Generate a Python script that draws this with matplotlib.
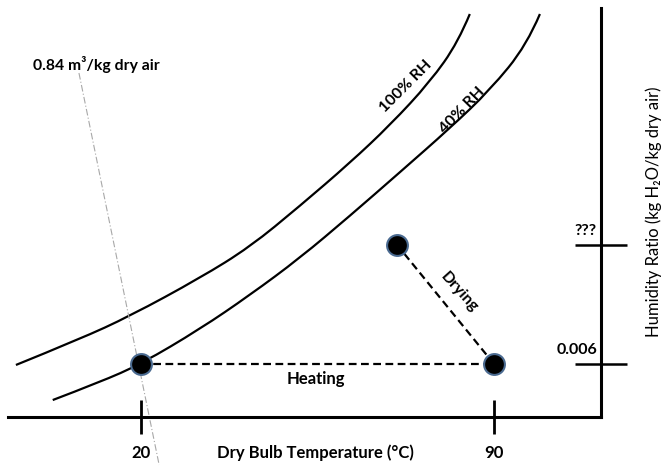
import matplotlib
matplotlib.use("Agg")
import matplotlib.pyplot as plt
from matplotlib.path import Path
from matplotlib.patches import PathPatch

# Psychrometric sketch: heating then drying
# dry bulb temperature (C) and humidity ratio (kg H2O / kg dry air)
rh100_t = [-4.8, 7.9, 17.8, 31.7, 41.6, 51.5, 61.4, 69.4, 77.3, 82.9, 85.2]
rh100_w = [0.00589, 0.00883, 0.01143, 0.01574, 0.01925, 0.02389, 0.02876, 0.03306, 0.03793, 0.04245, 0.04562]

rh40_t = [2.5, 11.9, 20.0, 31.7, 41.6, 51.5, 61.4, 71.4, 81.3, 89.2, 96.5, 99.1]
rh40_w = [0.00192, 0.00396, 0.006, 0.00996, 0.01381, 0.0180, 0.02276, 0.02774, 0.03272, 0.03702, 0.04211, 0.04562]

# 0.84 m3/kg specific volume line
vol_t = [7.7, 23.6]
vol_w = [0.03894, -0.00543]

# process states: ambient, heated, exhaust
state_t = [20, 90, 70.8]
state_w = [0.006, 0.006, 0.01947]

x_ticks = [20, 90]
x_tick_labels = ["20", "90"]
y_ticks = [0.006, 0.01947]
y_tick_labels = ["0.006", "???"]

fnt = ["Lato", "DejaVu Sans"]
plt.rcParams["font.family"] = fnt


def smooth_curve(ax, xs, ys, **kw):
    # quadratic bezier through the read points (points used as control points)
    pts = list(zip(xs, ys))
    verts = [pts[0]]
    codes = [Path.MOVETO]
    for i in range(1, len(pts) - 1):
        if i < len(pts) - 2:
            end = ((pts[i][0] + pts[i + 1][0]) / 2, (pts[i][1] + pts[i + 1][1]) / 2)
        else:
            end = pts[-1]
        verts += [pts[i], end]
        codes += [Path.CURVE3, Path.CURVE3]
    ax.add_patch(PathPatch(Path(verts, codes), fill=False, **kw))


fig = plt.figure(figsize=(6.63, 4.66), dpi=100)
ax = fig.add_axes([8 / 663, 49 / 466, 593 / 663, 409 / 466])
ax.set_xlim(-6.37, 111.21)
ax.set_ylim(0, 0.0463)

for s in ["top", "left"]:
    ax.spines[s].set_visible(False)
for s in ["bottom", "right"]:
    ax.spines[s].set_linewidth(2.2)

ax.set_xticks(x_ticks)
ax.set_xticklabels([])
ax.yaxis.tick_right()
ax.set_yticks(y_ticks)
ax.set_yticklabels([])
ax.tick_params(axis="x", direction="inout", length=24, width=2)
ax.tick_params(axis="y", direction="inout", length=37, width=1.8)

smooth_curve(ax, rh100_t, rh100_w, edgecolor="black", lw=1.6)
smooth_curve(ax, rh40_t, rh40_w, edgecolor="black", lw=1.6)
ax.plot(vol_t, vol_w, color="#a8a8a8", lw=0.8, ls=(0, (6, 2, 1, 2)), clip_on=False)

# heating and drying paths
ax.plot(state_t[:2], state_w[:2], color="black", lw=1.6, ls=(0, (3.5, 2)))
ax.plot(state_t[1:], state_w[1:], color="black", lw=1.6, ls=(0, (3.5, 2)))
ax.plot(state_t, state_w, ls="none", marker="o", ms=15, mfc="black",
        mec="#4a6a90", mew=1.5, zorder=5)

# labels
for t, lab in zip(x_ticks, x_tick_labels):
    ax.text(t, -0.00408, lab, ha="center", va="center", fontsize=12, fontweight="bold")
ax.text(54.6, -0.00408, "Dry Bulb Temperature (°C)", ha="center", va="center",
        fontsize=12, fontweight="bold")
for w, lab in zip(y_ticks, y_tick_labels):
    ax.text(110.4, w + 0.00113, lab, ha="right", va="baseline", fontsize=11.5, fontweight="bold")
ax.text(121.7, 0.0232, "Humidity Ratio (kg H₂O/kg dry air)", rotation=90,
        ha="center", va="center", fontsize=12)

ax.text(72.5, 0.03747, "100% RH", rotation=45, ha="center", va="center",
        fontsize=11.5, fontweight="bold")
ax.text(83.65, 0.03476, "40% RH", rotation=46, ha="center", va="center",
        fontsize=11.5, fontweight="bold")
ax.text(83.06, 0.01415, "Drying", rotation=-48, ha="center", va="center",
        fontsize=11.5, fontweight="bold")
ax.text(54.7, 0.0043, "Heating", ha="center", va="center", fontsize=12, fontweight="bold")
ax.text(11.18, 0.03996, "0.84 m³/kg dry air", ha="center", va="center",
        fontsize=11.3, fontweight="bold")

fig.savefig("out.png", dpi=100)
